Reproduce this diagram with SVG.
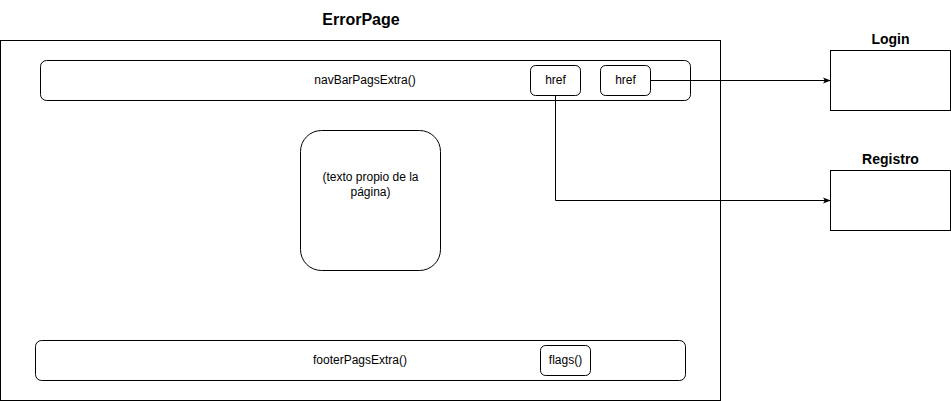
<svg xmlns="http://www.w3.org/2000/svg" width="951" height="401" viewBox="0 0 951 401">
  <style>
    .box { fill: #ffffff; stroke: #000000; stroke-width: 1; }
    .lbl { font-family: "Liberation Sans", Arial, sans-serif; font-size: 12px; fill: #000000; text-anchor: middle; }
    .ttl { font-family: "Liberation Sans", Arial, sans-serif; font-weight: bold; fill: #000000; text-anchor: middle; }
    .edge { fill: none; stroke: #000000; stroke-width: 1; }
  </style>
  <defs>
    <marker id="arrow" viewBox="0 0 10 10" refX="9" refY="5" markerWidth="8" markerHeight="8" markerUnits="userSpaceOnUse" orient="auto">
      <path d="M0,1 L10,5 L0,9 L2.5,5 Z" fill="#000000"/>
    </marker>
  </defs>
  <rect width="951" height="401" fill="#ffffff"/>

  <g id="errorPage">
    <text class="ttl" x="361" y="25" font-size="16">ErrorPage</text>
    <rect class="box" x="0.5" y="40.5" width="720" height="360"/>
  </g>

  <g id="navBar">
    <rect class="box" x="40.5" y="60.5" width="650" height="40" rx="6"/>
    <text class="lbl" x="365" y="84">navBarPagsExtra()</text>
  </g>

  <g id="href1">
    <rect class="box" x="530.5" y="65.5" width="50" height="30" rx="5"/>
    <text class="lbl" x="555.5" y="84">href</text>
  </g>

  <g id="href2">
    <rect class="box" x="600.5" y="65.5" width="50" height="30" rx="5"/>
    <text class="lbl" x="625.5" y="84">href</text>
  </g>

  <g id="content">
    <rect class="box" x="300.5" y="130.5" width="140" height="140" rx="21"/>
    <text class="lbl" x="370.5" y="181">(texto propio de la</text>
    <text class="lbl" x="370.5" y="196">página)</text>
  </g>

  <g id="footer">
    <rect class="box" x="35.5" y="340.5" width="650" height="40" rx="6"/>
    <text class="lbl" x="360" y="364">footerPagsExtra()</text>
  </g>

  <g id="flags">
    <rect class="box" x="540.5" y="345.5" width="50" height="30" rx="5"/>
    <text class="lbl" x="565.5" y="364">flags()</text>
  </g>

  <g id="login">
    <text class="ttl" x="890.5" y="44" font-size="14">Login</text>
    <rect class="box" x="830.5" y="50.5" width="120" height="60"/>
  </g>

  <g id="registro">
    <text class="ttl" x="890.5" y="164" font-size="14">Registro</text>
    <rect class="box" x="830.5" y="170.5" width="120" height="60"/>
  </g>

  <g id="connectors">
    <path class="edge" d="M650.5,80.5 L830,80.5" marker-end="url(#arrow)"/>
    <path class="edge" d="M555.5,95.5 L555.5,200.5 L830,200.5" marker-end="url(#arrow)"/>
  </g>
</svg>
